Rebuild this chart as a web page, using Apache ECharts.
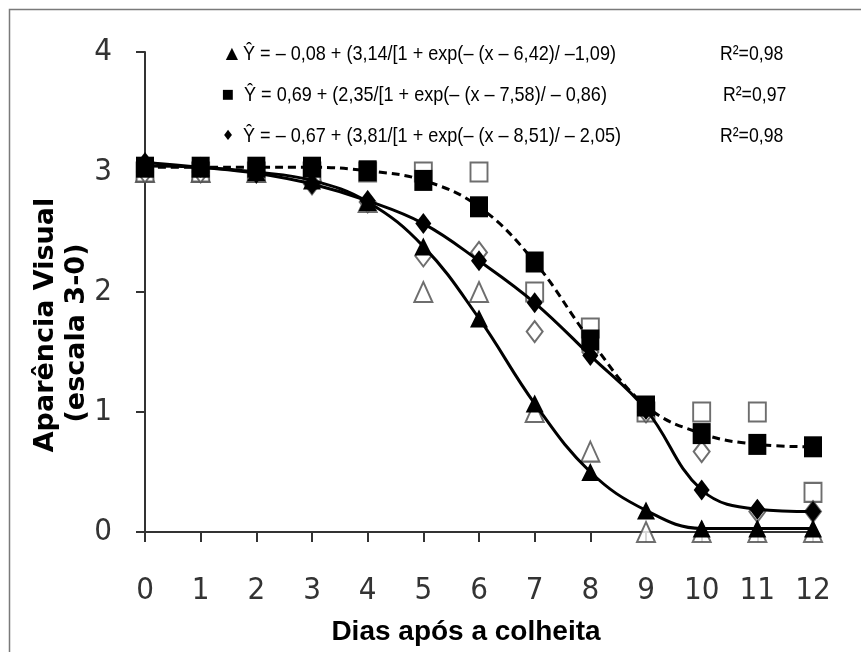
<!DOCTYPE html>
<html>
<head>
<meta charset="utf-8">
<script src="https://cdn.jsdelivr.net/npm/echarts@6/dist/echarts.min.js"></script>
<style>
html,body{margin:0;padding:0;background:#fff;}
#chart{width:861px;height:652px;}
</style>
</head>
<body>
<div id="chart"></div>
<script>
// ---- data ----
const days = [0, 1, 2, 3, 4, 5, 6, 7, 8, 9, 10, 11, 12];
const xTicks = ['0','1','2','3','4','5','6','7','8','9','10','11','12'];
const yTicks = ['0','1','2','3','4'];

// fitted (filled markers, on the curves)
const fitTriangle = [3.05, 3.04, 3.00, 2.93, 2.75, 2.38, 1.78, 1.07, 0.50, 0.18, 0.03, 0.03, 0.03];
const fitSquare   = [3.04, 3.04, 3.04, 3.04, 3.01, 2.93, 2.71, 2.25, 1.60, 1.05, 0.82, 0.73, 0.71];
const fitDiamond  = [3.08, 3.04, 2.99, 2.90, 2.76, 2.57, 2.26, 1.91, 1.47, 1.02, 0.35, 0.19, 0.17];

// observed (open markers)
const obsTriangle = [3.00, 3.00, 3.00, 3.00, 2.75, 2.00, 2.00, 1.00, 0.67, 0.00, 0.00, 0.00, 0.00];
const obsSquare   = [3.00, 3.00, 3.00, 3.00, 3.00, 3.00, 3.00, 2.00, 1.70, 1.00, 1.00, 1.00, 0.33];
const obsDiamond  = [3.00, 3.00, 3.00, 2.90, 2.75, 2.30, 2.33, 1.67, 1.50, 1.00, 0.67, 0.17, 0.17];

const eqLabels = [
  'Ŷ = – 0,08 + (3,14/[1 + exp(– (x – 6,42)/ –1,09)',
  'Ŷ = 0,69 + (2,35/[1 + exp(– (x – 7,58)/ – 0,86)',
  'Ŷ = – 0,67 + (3,81/[1 + exp(– (x – 8,51)/ – 2,05)'
];
const eqSymbols = ['▲', '■', '♦'];
const r2Labels = ['R²=0,98', 'R²=0,97', 'R²=0,98'];
const xTitle = 'Dias após a colheita';
const yTitle1 = 'Aparência Visual';
const yTitle2 = '(escala 3-0)';

// ---- chart ----
const TICKFONT = '"DejaVu Sans Condensed", "Liberation Sans Narrow", "Arial Narrow", sans-serif';
const SANS = '"Liberation Sans", Arial, sans-serif';
const pair = arr => days.map((d, i) => [d, arr[i]]);

const openStyle = {color: '#ffffff', borderColor: '#4a4a4a', borderWidth: 2};
function openSeries(name, arr, symbol, size) {
  return {
    name: name, type: 'scatter', data: pair(arr), symbol: symbol, symbolSize: size,
    itemStyle: openStyle, z: 1, silent: true
  };
}
function fitSeries(name, arr, symbol, size, dashed) {
  return {
    name: name, type: 'line', data: pair(arr), smooth: 0.4,
    symbol: symbol, symbolSize: size, showSymbol: true,
    lineStyle: {color: '#000', width: 3, type: dashed ? [8, 5] : 'solid'},
    itemStyle: {color: '#000', borderWidth: 0},
    z: 3, silent: true
  };
}

const eqRowsY = [54, 95, 136];
const graphics = [
  {type: 'rect', shape: {x: 9.5, y: 9.5, width: 900, height: 700},
   style: {fill: 'none', stroke: '#7a7a7a', lineWidth: 1.5}, z: 0, silent: true}
];
eqRowsY.forEach((y, i) => {
  graphics.push({type: 'text', x: i === 0 ? 232 : 228, y: y,
    style: {text: eqSymbols[i], font: (i === 0 ? 16 : (i === 1 ? 13 : 14)) + 'px "DejaVu Sans"', fill: '#000', align: 'center', verticalAlign: 'middle'}, silent: true});
  graphics.push({type: 'text', x: i === 1 ? 244 : 243, y: y, scaleX: 0.86,
    style: {text: eqLabels[i], font: '21px ' + SANS, fill: '#000', align: 'left', verticalAlign: 'middle'}, silent: true});
  graphics.push({type: 'text', x: i === 1 ? 723 : 720, y: y, scaleX: 0.84,
    style: {text: r2Labels[i], font: '21px ' + SANS, fill: '#000', align: 'left', verticalAlign: 'middle'}, silent: true});
});
graphics.push({type: 'text', x: 466, y: 632,
  style: {text: xTitle, font: 'bold 28px ' + SANS, fill: '#000', align: 'center', verticalAlign: 'middle'}, silent: true});
graphics.push({type: 'text', x: 46, y: 325, rotation: Math.PI / 2,
  style: {text: yTitle1, font: 'bold 27px "DejaVu Sans", sans-serif', fill: '#000', align: 'center', verticalAlign: 'middle'}, silent: true});
graphics.push({type: 'text', x: 77, y: 333, rotation: Math.PI / 2,
  style: {text: yTitle2, font: 'bold 27px "DejaVu Sans", sans-serif', fill: '#000', align: 'center', verticalAlign: 'middle'}, silent: true});

const axisLineStyle = {color: '#333', width: 2};
const option = {
  backgroundColor: '#ffffff',
  animation: false,
  grid: {left: 145, right: 48, top: 52, bottom: 120, containLabel: false},
  xAxis: {
    type: 'value', min: 0, max: 12, interval: 1,
    axisLine: {show: true, onZero: false, lineStyle: axisLineStyle},
    axisTick: {show: true, inside: false, length: 10, lineStyle: axisLineStyle},
    axisLabel: {margin: 43, fontSize: 31, fontFamily: TICKFONT, color: '#333',
      formatter: v => xTicks[days.indexOf(v)] ?? ''},
    splitLine: {show: false}
  },
  yAxis: {
    type: 'value', min: 0, max: 4, interval: 1,
    axisLine: {show: true, onZero: false, lineStyle: axisLineStyle},
    axisTick: {show: true, inside: false, length: 9, lineStyle: axisLineStyle},
    axisLabel: {margin: 33, fontSize: 31, fontFamily: TICKFONT, color: '#333',
      formatter: v => yTicks[v] ?? ''},
    splitLine: {show: false}
  },
  graphic: graphics,
  series: [
    openSeries('obsTriangle', obsTriangle, 'triangle', [18, 20]),
    openSeries('obsSquare', obsSquare, 'rect', [17, 19]),
    openSeries('obsDiamond', obsDiamond, 'diamond', [16, 21]),
    fitSeries('fitSquare', fitSquare, 'rect', [18, 21], true),
    fitSeries('fitTriangle', fitTriangle, 'triangle', [18, 18], false),
    fitSeries('fitDiamond', fitDiamond, 'diamond', [16, 21], false)
  ]
};
const chart = echarts.init(document.getElementById('chart'), null, {renderer: 'canvas'});
chart.setOption(option);
</script>
</body>
</html>
